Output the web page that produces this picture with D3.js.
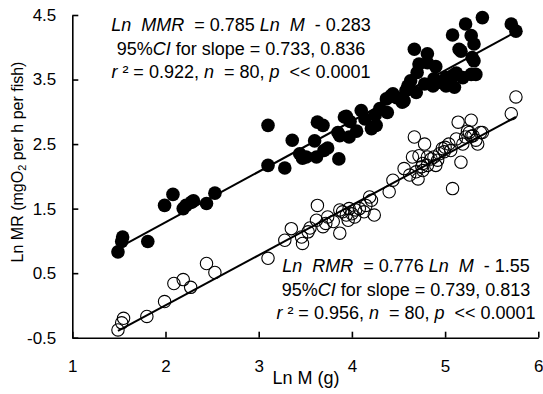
<html>
<head>
<meta charset="utf-8">
<title>Ln MR vs Ln M</title>
<script src="https://d3js.org/d3.v7.min.js"></script>
<style>
body { margin: 0; background: #fff; }
text { font-family: "Liberation Sans", Arial, sans-serif; fill: #000; white-space: pre; }
</style>
</head>
<body>
<div id="chart"></div>
<script>
// maximum metabolic rate (filled)
var mmrX = [1.49, 1.54, 1.53, 1.81, 2.08, 1.99, 2.19, 2.28, 2.44, 2.53, 2.22,
  3.10, 3.36, 3.10, 3.28, 3.44, 3.51, 3.62, 3.63, 3.69, 3.74, 3.85, 3.86, 3.92, 3.47,
  3.87, 3.97, 4.10, 4.14, 4.21, 4.26,
  5.40, 5.71, 5.76, 5.22, 5.08, 5.28, 5.31, 5.17, 5.29, 5.31, 4.67, 4.81, 4.72, 4.81,
  4.70, 4.63, 4.60, 4.58, 4.69, 4.88, 4.94, 5.01, 5.10, 5.08, 5.19, 5.28, 5.33, 4.44,
  4.37, 4.54, 4.30, 4.38, 3.94, 5.01, 4.42, 4.56, 4.78, 4.87, 5.03, 5.15, 4.48, 4.25,
  3.98, 3.60, 3.70, 4.05, 2.30, 5.12, 4.90];
var mmrY = [0.83, 1.06, 0.99, 0.99, 1.72, 1.55, 1.50, 1.60, 1.58, 1.74, 1.55,
  2.79, 2.56, 2.17, 2.13, 2.35, 2.30, 2.30, 2.84, 2.79, 2.44, 2.68, 2.27, 2.92, 2.28,
  2.63, 2.61, 3.02, 2.89, 2.74, 2.79,
  4.46, 4.36, 4.25, 4.36, 4.19, 4.18, 4.05, 3.94, 3.84, 3.79, 3.97, 3.90, 3.74, 3.76,
  3.61, 3.48, 3.40, 3.33, 3.30, 3.51, 3.46, 3.53, 3.38, 3.56, 3.53, 3.58, 3.58, 3.28,
  3.20, 3.15, 3.05, 2.99, 2.93, 3.40, 3.25, 3.17, 3.43, 3.40, 3.48, 3.97, 3.22, 2.95,
  2.85, 2.55, 2.40, 2.70, 1.62, 3.60, 3.70];

// routine metabolic rate (open)
var rmrX = [1.49, 1.53, 1.55, 1.80, 1.99, 2.09, 2.19, 2.27, 2.44, 2.53,
  3.10, 3.28, 3.35, 3.46, 3.47, 3.53, 3.62, 3.63, 3.69, 3.74, 3.87, 3.87, 3.94, 3.97,
  4.03, 4.04, 4.13, 4.15, 4.19, 4.24, 3.96,
  5.76, 5.71, 5.28, 5.14, 5.40, 5.26, 5.33, 5.22, 5.30, 5.19, 5.35, 4.67, 4.78, 5.04,
  4.99, 5.06, 5.17, 5.08, 4.72, 4.81, 4.90, 4.94, 4.56, 4.62, 4.69, 4.76, 4.71, 4.81,
  4.85, 4.44, 4.40, 4.21,
  4.65, 4.76, 4.88, 4.97, 5.38, 3.55, 3.80, 3.90, 4.00, 4.08, 3.72, 4.75, 4.92, 5.00,
  5.12, 5.28, 5.24];
var rmrY = [-0.38, -0.27, -0.20, -0.17, 0.06, 0.34, 0.40, 0.28, 0.65, 0.51,
  0.73, 1.01, 1.19, 1.06, 0.96, 1.14, 1.32, 1.55, 1.22, 1.37, 1.12, 1.48, 1.40, 1.50,
  1.37, 1.48, 1.45, 1.55, 1.68, 1.40, 1.32,
  3.23, 2.97, 2.87, 2.84, 2.68, 2.68, 2.56, 2.61, 2.63, 2.50, 2.50, 2.61, 2.50, 2.50,
  2.38, 2.40, 2.22, 1.81, 2.32, 2.30, 2.17, 2.35, 2.12, 2.02, 2.07, 2.09, 1.96, 2.17,
  2.27, 1.94, 1.76, 1.63,
  2.30, 2.20, 2.30, 2.43, 2.68, 1.20, 1.30, 1.45, 1.42, 1.50, 1.27, 2.15, 2.25, 2.45,
  2.58, 2.62, 2.70];

var mmrFit = [0.785, -0.283];
var rmrFit = [0.776, -1.55];

var xTicks = [1, 2, 3, 4, 5, 6];
var yTicks = [-0.5, 0.5, 1.5, 2.5, 3.5, 4.5];

var mmrText = [
  [["Ln  MMR", 1], ["  = 0.785 ", 0], ["Ln  M", 1], ["  - 0.283", 0]],
  [["95%", 0], ["CI", 1], [" for slope = 0.733, 0.836", 0]],
  [["r", 1], [" \u00b2 = 0.922, ", 0], ["n", 1], ["  = 80, ", 0], ["p", 1], ["  << 0.0001", 0]]
];
var rmrText = [
  [["Ln  RMR", 1], ["  = 0.776 ", 0], ["Ln  M", 1], ["  - 1.55", 0]],
  [["95%", 0], ["CI", 1], [" for slope = 0.739, 0.813", 0]],
  [["r", 1], [" \u00b2 = 0.956, ", 0], ["n", 1], ["  = 80, ", 0], ["p", 1], ["  << 0.0001", 0]]
];

var width = 543, height = 394;

var svg = d3.select("#chart").append("svg")
  .attr("width", width)
  .attr("height", height);

var x = d3.scaleLinear().domain([1, 6]).range([72.3, 538.3]);
var y = d3.scaleLinear().domain([-0.5, 4.5]).range([337.7, 15]);

var xAxis = svg.append("g")
  .attr("transform", "translate(0," + y(-0.5) + ")")
  .call(d3.axisBottom(x).tickValues(xTicks).tickSizeInner(-6).tickSizeOuter(0)
    .tickPadding(22).tickFormat(function(d) { return d; }));

var yAxis = svg.append("g")
  .attr("transform", "translate(" + x(1) + ",0)")
  .call(d3.axisLeft(y).tickValues(yTicks).tickSizeInner(-6).tickSizeOuter(0)
    .tickPadding(16).tickFormat(function(d) { return d.toFixed(1); }));

svg.selectAll(".domain, .tick line").attr("stroke", "#000").attr("stroke-width", 1.6);
svg.selectAll(".tick text").attr("font-size", 17).attr("fill", "#000")
  .style("font-family", '"Liberation Sans", Arial, sans-serif');

// fitted lines
function fitLine(xs, fit) {
  var ext = d3.extent(xs);
  return ext.map(function(v) { return [x(v), y(fit[0] * v + fit[1])]; });
}
svg.append("path").attr("d", d3.line()(fitLine(mmrX, mmrFit)))
  .attr("stroke", "#000").attr("stroke-width", 2).attr("fill", "none");
svg.append("path").attr("d", d3.line()(fitLine(rmrX, rmrFit)))
  .attr("stroke", "#000").attr("stroke-width", 2).attr("fill", "none");

svg.append("g").selectAll("circle").data(d3.range(mmrX.length)).enter().append("circle")
  .attr("cx", function(i) { return x(mmrX[i]); })
  .attr("cy", function(i) { return y(mmrY[i]); })
  .attr("r", 6.8)
  .attr("fill", "#000");

svg.append("g").selectAll("circle").data(d3.range(rmrX.length)).enter().append("circle")
  .attr("cx", function(i) { return x(rmrX[i]); })
  .attr("cy", function(i) { return y(rmrY[i]); })
  .attr("r", 6.2)
  .attr("fill", "none")
  .attr("stroke", "#000")
  .attr("stroke-width", 1.1);

// equations
function block(lines, cx, y0) {
  lines.forEach(function(parts, k) {
    var t = svg.append("text")
      .attr("x", cx).attr("y", y0 + k * 23.5)
      .attr("text-anchor", "middle")
      .attr("font-size", 18);
    parts.forEach(function(p) {
      t.append("tspan").text(p[0]).attr("font-style", p[1] ? "italic" : "normal");
    });
  });
}
block(mmrText, 241, 31);
block(rmrText, 406, 272);

// axis titles
svg.append("text")
  .attr("x", 306).attr("y", 384)
  .attr("text-anchor", "middle")
  .attr("font-size", 18)
  .text("Ln M (g)");

var yl = svg.append("text")
  .attr("transform", "translate(23,162) rotate(-90)")
  .attr("text-anchor", "middle")
  .attr("font-size", 16);
yl.append("tspan").text("Ln MR (mgO");
yl.append("tspan").text("2").attr("font-size", 11).attr("dy", 3);
yl.append("tspan").text(" per h per fish)").attr("dy", -3);
</script>
</body>
</html>
